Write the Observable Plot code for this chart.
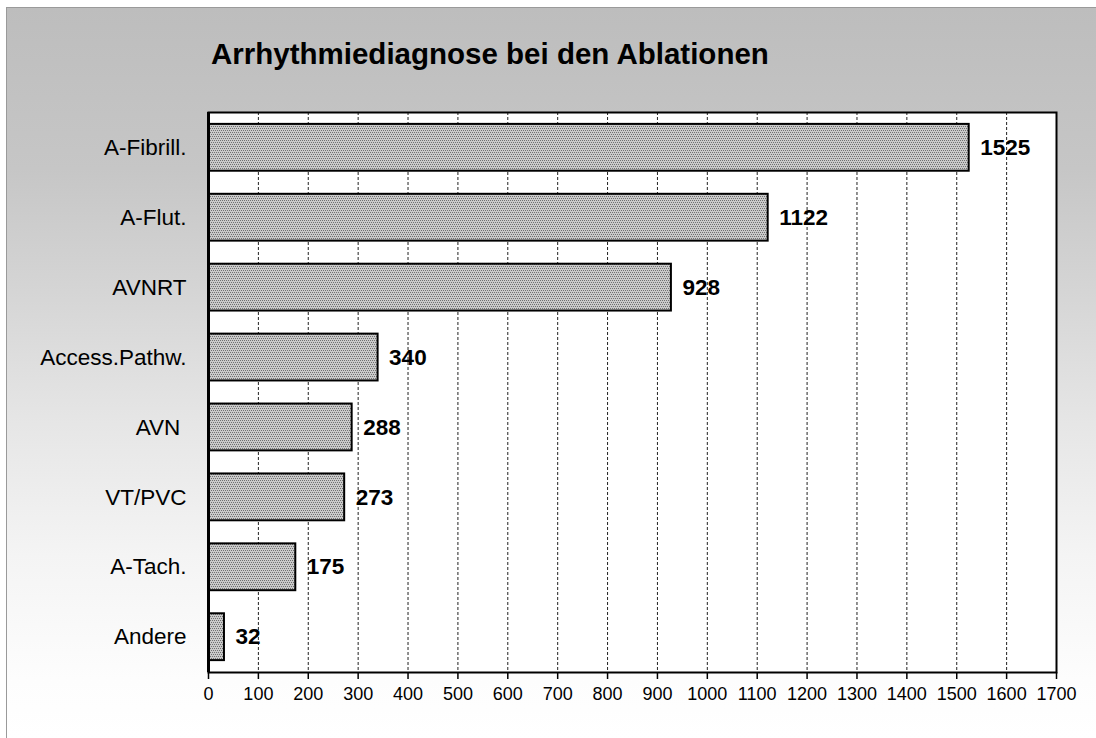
<!DOCTYPE html>
<html>
<head>
<meta charset="utf-8">
<script src="https://cdn.jsdelivr.net/npm/d3@7"></script>
<script src="https://cdn.jsdelivr.net/npm/@observablehq/plot@0.6"></script>
<style>
  html, body { margin: 0; padding: 0; background: #ffffff; }
  #page {
    position: relative; width: 1096px; height: 738px; overflow: hidden;
    font-family: "Liberation Sans", Arial, sans-serif;
  }
  #bg {
    position: absolute; left: 6px; top: 7px; right: 0; bottom: 0;
    border-left: 1px solid #9a9a9a; border-top: 1px solid #9a9a9a;
    background: linear-gradient(#bdbdbd 0%, #c6c6c6 22%, #d6d6d6 40%, #e6e6e6 57%, #f4f4f4 75%, #fdfdfd 92%, #ffffff 100%);
  }
  #title {
    position: absolute; left: 211px; top: 39px; font-size: 29.5px; font-weight: bold;
    line-height: 30px; color: #000; white-space: nowrap;
  }
  #chart { position: absolute; left: 0; top: 0; }
</style>
</head>
<body>
<div id="page">
  <div id="bg"></div>
  <div id="chart"></div>
  <div id="title">Arrhythmiediagnose bei den Ablationen</div>
</div>
<script>
const categories = ["A-Fibrill.", "A-Flut.", "AVNRT", "Access.Pathw.", "AVN\u00a0", "VT/PVC", "A-Tach.", "Andere"];
const values = [1525, 1122, 928, 340, 288, 273, 175, 32];
const xTicks = [0, 100, 200, 300, 400, 500, 600, 700, 800, 900, 1000, 1100, 1200, 1300, 1400, 1500, 1600, 1700];
const gridTicks = xTicks.slice(1, -1);

const data = categories.map((c, i) => ({cat: c, value: values[i]}));

const chart = Plot.plot({
  width: 1096,
  height: 738,
  marginLeft: 208,
  marginRight: 40,
  marginTop: 112,
  marginBottom: 66,
  style: {background: "transparent", color: "#000", fontFamily: "'Liberation Sans', Arial, sans-serif"},
  x: {domain: [0, 1700], ticks: xTicks, label: null},
  y: {domain: categories, label: null, paddingInner: 0.33, paddingOuter: 0.17, round: false},
  marks: [
    Plot.frame({fill: "white"}),
    Plot.ruleX(gridTicks, {stroke: "#222", strokeWidth: 1, strokeDasharray: "3,2"}),
    Plot.barX(data, {y: "cat", x: "value", fill: "url(#dots)", stroke: "#000", strokeWidth: 2}),
    Plot.text(data, {y: "cat", x: "value", text: d => String(d.value), dx: 11, textAnchor: "start", fontWeight: "bold", fontSize: 22.5, fill: "#000"}),
    Plot.frame({stroke: "#000", strokeWidth: 2}),
    Plot.ruleX([0], {stroke: "#000", strokeWidth: 3}),
    Plot.axisX({ticks: xTicks, tickSize: 7, tickPadding: 8, fontSize: 18, label: null, tickFormat: d => String(d), stroke: "#000", strokeWidth: 1.5}),
    Plot.axisY({tickSize: 0, tickPadding: 22, fontSize: 22.5, label: null})
  ]
});

const svgns = "http://www.w3.org/2000/svg";
const defs = document.createElementNS(svgns, "defs");
const pat = document.createElementNS(svgns, "pattern");
pat.setAttribute("id", "dots");
pat.setAttribute("width", "4");
pat.setAttribute("height", "4");
pat.setAttribute("patternUnits", "userSpaceOnUse");
const bgRect = document.createElementNS(svgns, "rect");
bgRect.setAttribute("width", "4"); bgRect.setAttribute("height", "4"); bgRect.setAttribute("fill", "#cacaca");
pat.appendChild(bgRect);
[[0, 0], [2, 0], [1, 2], [3, 2]].forEach(([x, y]) => {
  const r = document.createElementNS(svgns, "rect");
  r.setAttribute("x", x); r.setAttribute("y", y); r.setAttribute("width", "1"); r.setAttribute("height", "1");
  r.setAttribute("fill", "#707070");
  pat.appendChild(r);
});
defs.appendChild(pat);
chart.insertBefore(defs, chart.firstChild);

document.getElementById("chart").appendChild(chart);
</script>
</body>
</html>
